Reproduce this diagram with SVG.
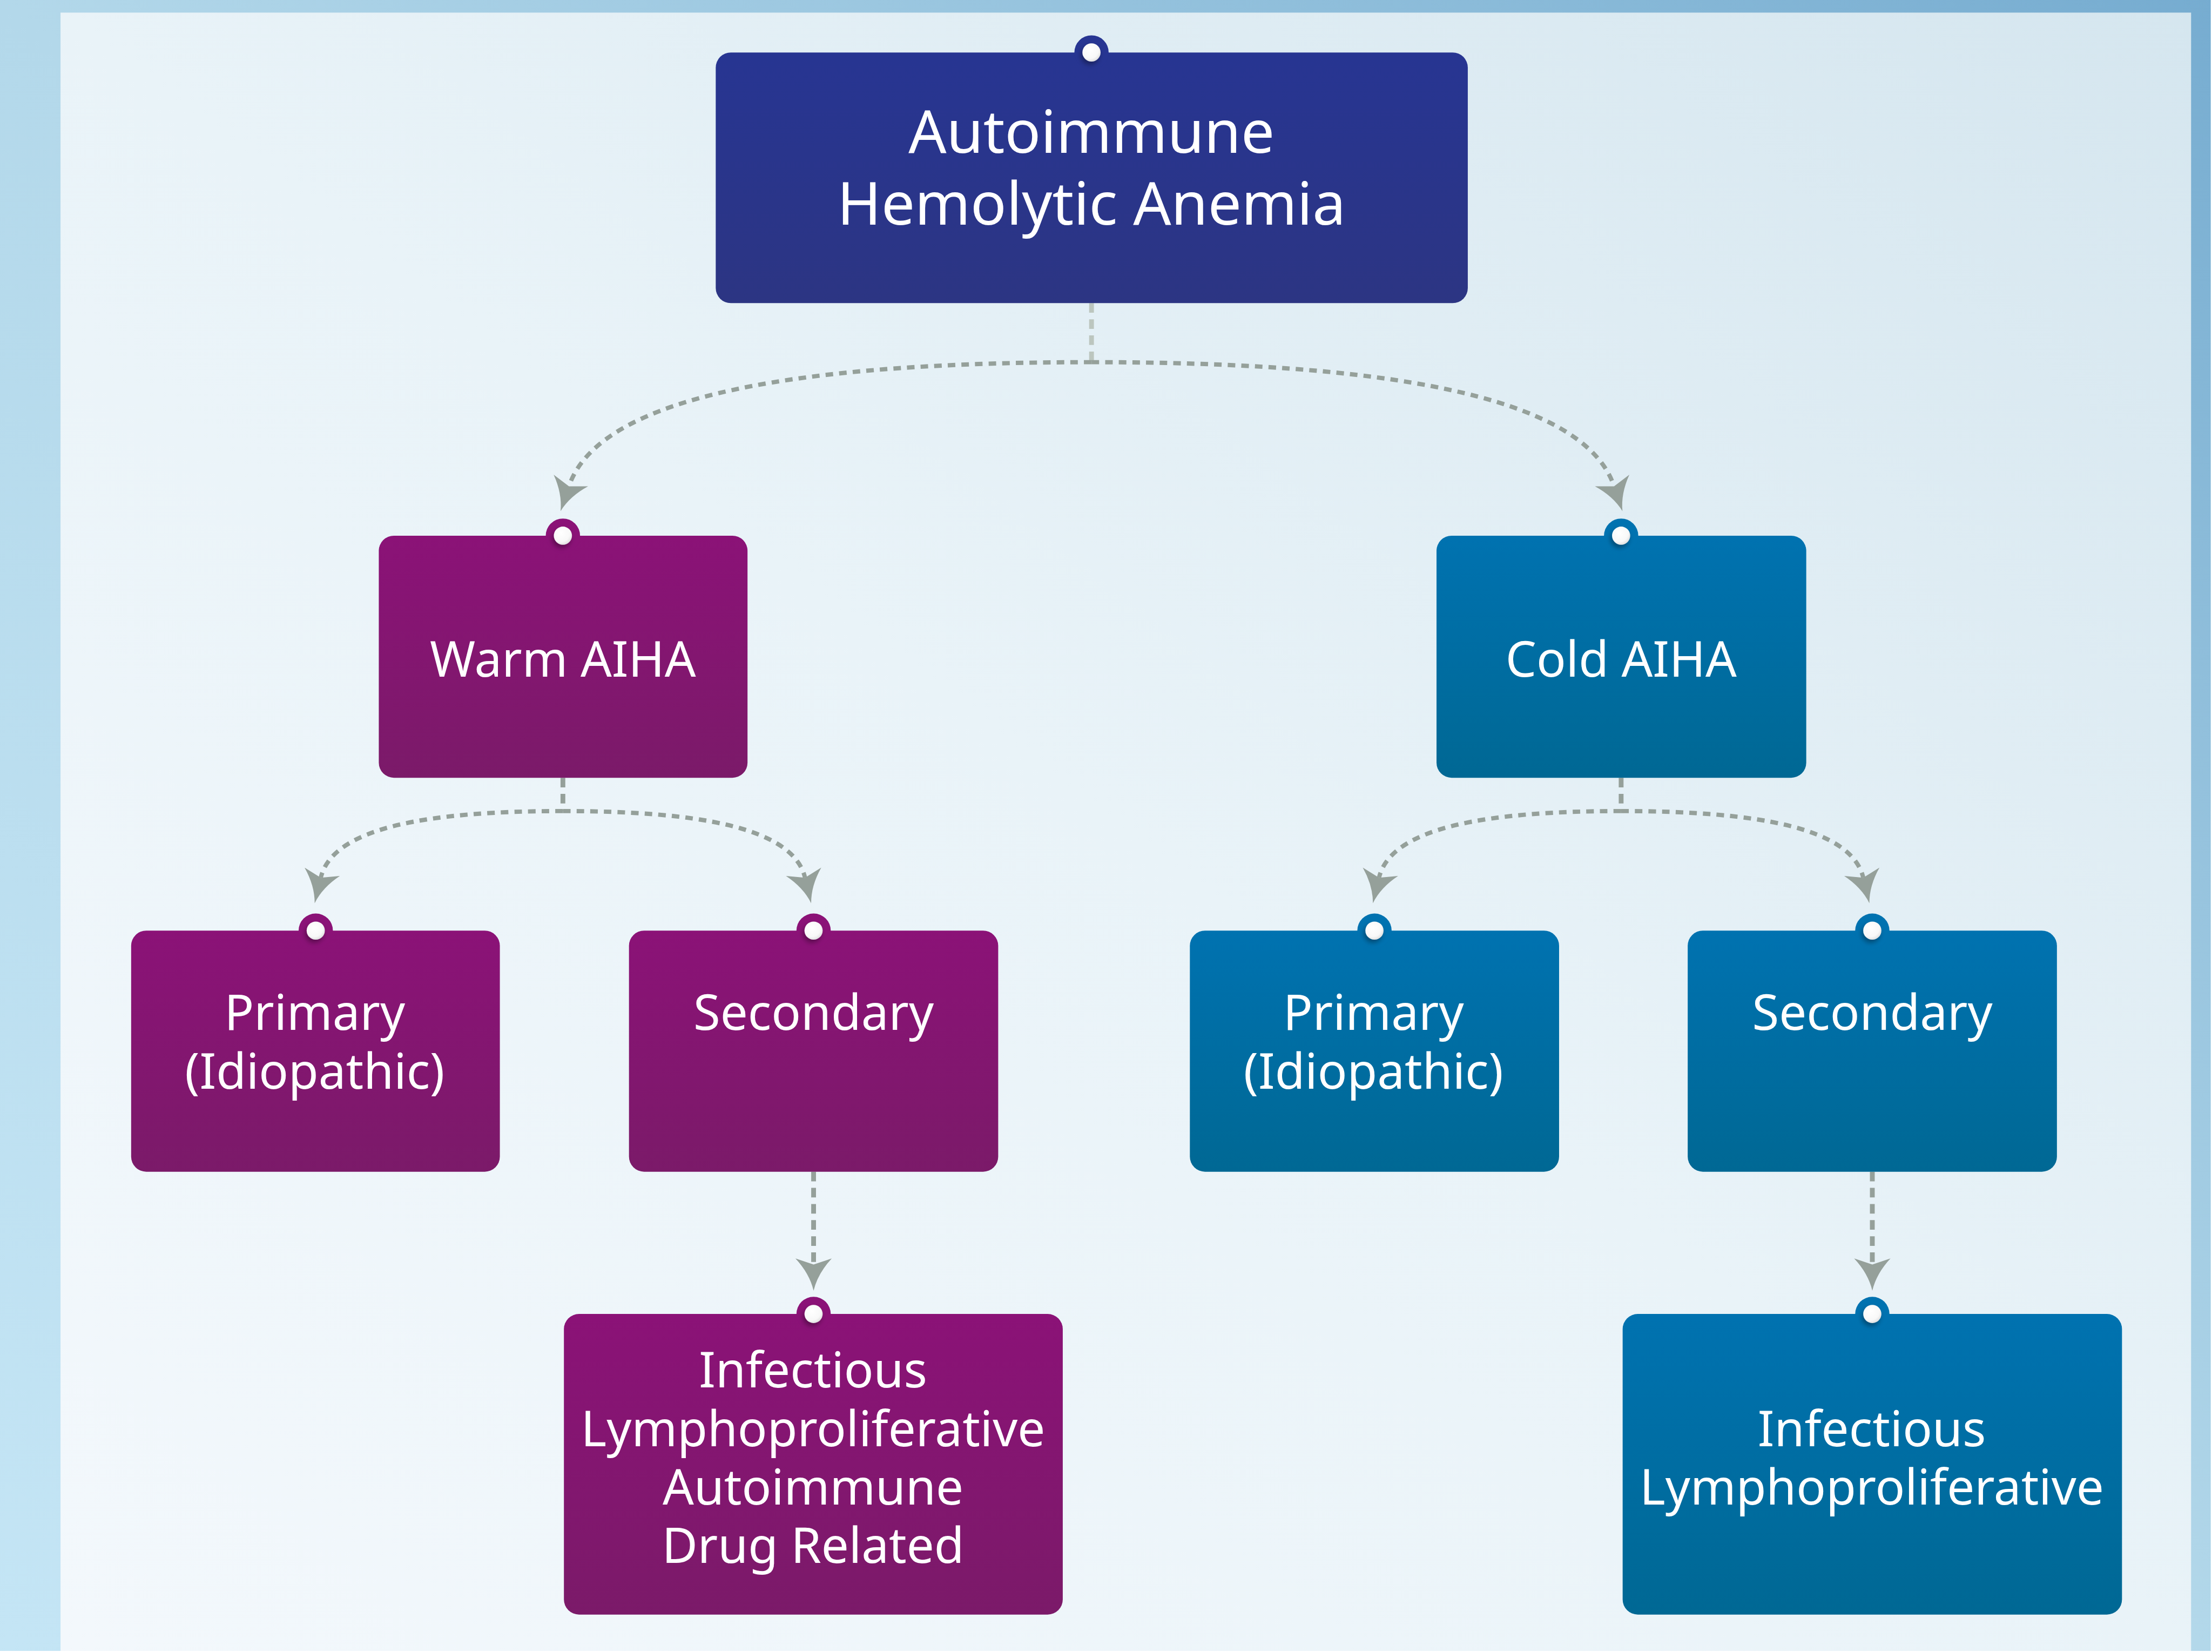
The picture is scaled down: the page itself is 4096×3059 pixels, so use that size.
<svg xmlns="http://www.w3.org/2000/svg" width="4096" height="3059" viewBox="0 0 4096 3059">
<defs>
<linearGradient id="frame" x1="0" y1="1" x2="1" y2="0">
<stop offset="0" stop-color="#c4e5f5"/>
<stop offset="0.5" stop-color="#b3d8ea"/>
<stop offset="1" stop-color="#76acd0"/>
</linearGradient>
<linearGradient id="panel" x1="0" y1="1" x2="1" y2="0">
<stop offset="0" stop-color="#f3f8fc"/>
<stop offset="0.5" stop-color="#e9f3f8"/>
<stop offset="1" stop-color="#d5e6ef"/>
</linearGradient>
<linearGradient id="gNavy" x1="0" y1="0" x2="0" y2="1">
<stop offset="0" stop-color="#273592"/>
<stop offset="1" stop-color="#2c3583"/>
</linearGradient>
<linearGradient id="gPurple" x1="0" y1="0" x2="0" y2="1">
<stop offset="0" stop-color="#8b1277"/>
<stop offset="1" stop-color="#7b1a69"/>
</linearGradient>
<linearGradient id="gBlue" x1="0" y1="0" x2="0" y2="1">
<stop offset="0" stop-color="#0072b0"/>
<stop offset="1" stop-color="#006894"/>
</linearGradient>
<radialGradient id="gDot" cx="0.4" cy="0.35" r="0.7">
<stop offset="0" stop-color="#ffffff"/>
<stop offset="0.7" stop-color="#f8f8f8"/>
<stop offset="1" stop-color="#dcdcdc"/>
</radialGradient>
<filter id="dotShadow" x="-50%" y="-50%" width="200%" height="200%">
<feDropShadow dx="-3" dy="6" stdDeviation="5" flood-color="#000000" flood-opacity="0.35"/>
</filter>
<marker id="ah" viewBox="0 -37 66 74" refX="12" refY="0" markerWidth="66" markerHeight="74" markerUnits="userSpaceOnUse" orient="auto">
<path d="M0,-36 Q30,-8 64,0 Q30,8 0,36 L12,0 Z" fill="#95a09a"/>
</marker>
<style>
.lbl{font-family:"Noto Sans","Open Sans","DejaVu Sans",sans-serif;fill:#ffffff;text-anchor:middle}
.t1{font-size:118px}
.t2{font-size:97px}
.stub{fill:none;stroke:#95a09a;stroke-width:9.5;stroke-dasharray:19 13}
.curve{fill:none;stroke:#95a09a;stroke-width:8.5;stroke-dasharray:15 12;marker-end:url(#ah)}
.dotw{fill:url(#gDot);filter:url(#dotShadow)}
</style>
</defs>
<g transform="scale(0.934)">
<rect x="0" y="0" width="4383" height="3273" fill="url(#frame)"/>
<rect x="120" y="25" width="4224" height="3248" fill="url(#panel)"/>

<g id="connectors">
<path class="stub" d="M2164,601 L2164,718" style="stroke:#bcc6bf"/>
<path class="curve" d="M2164,718 C1600,718 1190,780 1128,964"/>
<path class="curve" d="M2164,718 C2728,718 3138,780 3200,964"/>
<path class="stub" d="M1116,1542 L1116,1608"/>
<path class="curve" d="M1116,1608 C850,1608 660,1640 636,1740"/>
<path class="curve" d="M1116,1608 C1382,1608 1572,1640 1596,1740"/>
<path class="stub" d="M3214,1542 L3214,1608"/>
<path class="curve" d="M3214,1608 C2948,1608 2758,1640 2734,1740"/>
<path class="curve" d="M3214,1608 C3480,1608 3670,1640 3694,1740"/>
<path class="stub" d="M1613,2323 L1613,2507" style="marker-end:url(#ah)"/>
<path class="stub" d="M3712,2323 L3712,2507" style="marker-end:url(#ah)"/>
</g>

<g id="node-root">
<rect x="1419" y="104" width="1491" height="497" rx="30" fill="url(#gNavy)"/>
<circle cx="2164" cy="104" r="34" fill="#273592"/>
<circle class="dotw" cx="2164" cy="104" r="18"/>
<text class="lbl t1" x="2164" y="303">Autoimmune</text>
<text class="lbl t1" x="2164" y="445">Hemolytic Anemia</text>
</g>

<g id="node-warm">
<rect x="751" y="1062" width="731" height="480" rx="30" fill="url(#gPurple)"/>
<circle cx="1116" cy="1062" r="34" fill="#8b1277"/>
<circle class="dotw" cx="1116" cy="1062" r="18"/>
<text class="lbl t2" x="1116" y="1342">Warm AIHA</text>
</g>

<g id="node-cold">
<rect x="2848" y="1062" width="733" height="480" rx="30" fill="url(#gBlue)"/>
<circle cx="3214" cy="1062" r="34" fill="#0072b0"/>
<circle class="dotw" cx="3214" cy="1062" r="18"/>
<text class="lbl t2" x="3214" y="1342">Cold AIHA</text>
</g>

<g id="node-warm-primary">
<rect x="260" y="1845" width="731" height="478" rx="30" fill="url(#gPurple)"/>
<circle cx="626" cy="1845" r="34" fill="#8b1277"/>
<circle class="dotw" cx="626" cy="1845" r="18"/>
<text class="lbl t2" x="624" y="2042">Primary</text>
<text class="lbl t2" x="624" y="2158">(Idiopathic)</text>
</g>

<g id="node-warm-secondary">
<rect x="1247" y="1845" width="732" height="478" rx="30" fill="url(#gPurple)"/>
<circle cx="1613" cy="1845" r="34" fill="#8b1277"/>
<circle class="dotw" cx="1613" cy="1845" r="18"/>
<text class="lbl t2" x="1613" y="2042">Secondary</text>
</g>

<g id="node-cold-primary">
<rect x="2359" y="1845" width="732" height="478" rx="30" fill="url(#gBlue)"/>
<circle cx="2725" cy="1845" r="34" fill="#0072b0"/>
<circle class="dotw" cx="2725" cy="1845" r="18"/>
<text class="lbl t2" x="2723" y="2042">Primary</text>
<text class="lbl t2" x="2723" y="2158">(Idiopathic)</text>
</g>

<g id="node-cold-secondary">
<rect x="3346" y="1845" width="732" height="478" rx="30" fill="url(#gBlue)"/>
<circle cx="3712" cy="1845" r="34" fill="#0072b0"/>
<circle class="dotw" cx="3712" cy="1845" r="18"/>
<text class="lbl t2" x="3712" y="2042">Secondary</text>
</g>

<g id="node-warm-causes">
<rect x="1118" y="2605" width="989" height="596" rx="30" fill="url(#gPurple)"/>
<circle cx="1613" cy="2605" r="34" fill="#8b1277"/>
<circle class="dotw" cx="1613" cy="2605" r="18"/>
<text class="lbl t2" x="1612" y="2751">Infectious</text>
<text class="lbl t2" x="1612" y="2867">Lymphoproliferative</text>
<text class="lbl t2" x="1612" y="2983">Autoimmune</text>
<text class="lbl t2" x="1612" y="3099">Drug Related</text>
</g>

<g id="node-cold-causes">
<rect x="3217" y="2605" width="990" height="596" rx="30" fill="url(#gBlue)"/>
<circle cx="3712" cy="2605" r="34" fill="#0072b0"/>
<circle class="dotw" cx="3712" cy="2605" r="18"/>
<text class="lbl t2" x="3711" y="2867">Infectious</text>
<text class="lbl t2" x="3711" y="2983">Lymphoproliferative</text>
</g>
</g>
</svg>
